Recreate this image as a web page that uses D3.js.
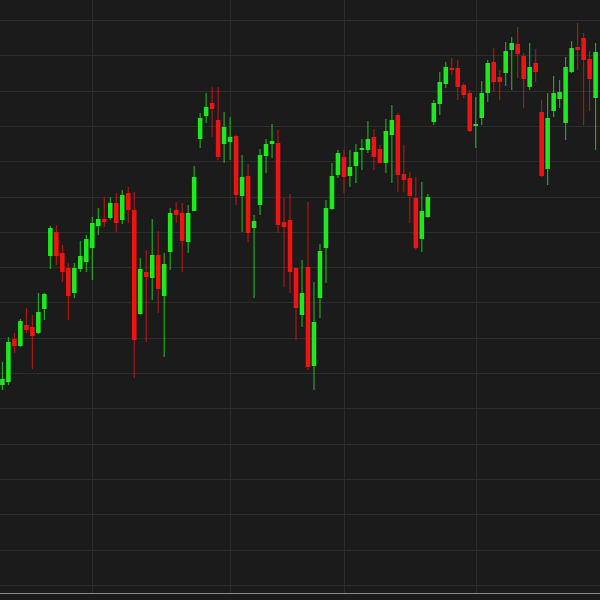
<!DOCTYPE html>
<html>
<head>
<meta charset="utf-8">
<script src="https://cdn.jsdelivr.net/npm/d3@7"></script>
<style>
  html, body { margin: 0; padding: 0; background: #1b1b1b; }
  svg { display: block; }
</style>
</head>
<body>
<svg id="chart" width="600" height="600"></svg>
<script>
// OHLC values (price units)
const opens  = [215,218,261,254,275,273,267,291,344,368,347,332,307,331,338,352,374,381,382,397,
                380,407,390,286,328,322,345,304,348,390,387,358,389,461,484,497,480,456,458,464,
                404,424,372,395,444,456,457,378,380,332,285,333,234,302,352,391,425,443,424,434,
                450,450,463,451,437,465,485,426,422,402,361,383,478,496,516,532,532,515,507,474,
                482,507,538,523,527,550,556,544,513,537,488,431,489,501,477,528,553,562,541,502];
const highs  = [238,263,267,281,292,285,307,307,374,375,355,337,337,359,365,383,392,403,403,407,
                410,413,408,342,350,381,369,347,392,398,397,395,434,487,507,513,513,488,483,465,
                445,436,385,451,461,476,470,402,406,332,340,398,318,356,400,437,450,450,450,456,
                461,479,471,455,481,495,487,455,428,423,418,406,500,528,538,542,540,517,510,503,
                519,540,552,530,558,563,573,547,557,551,500,507,524,520,543,559,577,567,549,557];
const lows   = [210,215,247,253,267,231,266,280,331,335,318,280,302,328,328,320,365,373,380,368,
                376,377,222,285,258,300,287,243,330,377,328,347,389,452,477,463,440,437,440,395,
                368,358,302,385,427,442,367,313,307,260,273,230,210,282,317,390,422,407,413,417,
                430,447,430,437,427,417,408,408,377,350,348,382,475,485,512,525,500,502,468,452,
                475,498,508,500,514,510,522,492,510,518,423,415,483,492,460,527,530,475,489,450];
const closes = [221,258,254,279,270,264,288,306,372,344,328,304,332,344,361,377,381,378,397,377,
                405,390,260,331,323,345,311,336,387,385,359,387,423,482,493,491,443,473,463,405,
                423,367,379,445,456,459,375,373,328,292,307,233,278,349,392,424,447,423,433,448,
                452,461,443,437,469,480,425,420,404,352,389,403,497,518,533,530,513,505,469,476,
                507,537,518,518,549,557,546,521,533,528,424,482,507,508,533,552,550,540,521,548];
// horizontal grid levels (price units) and vertical grid positions (candle index)
const gridLevels = [580,544.7,509.4,474.1,438.8,403.5,368.2,332.9,297.6,262.3,227.0,191.7,156.4,121.1,85.8,50.5,15.2];
const gridCandles = [15, 38, 57, 79];

const W = 600, H = 600;
const data = opens.map((o, i) => ({ i, open: o, high: highs[i], low: lows[i], close: closes[i] }));

const svg = d3.select("#chart");
svg.append("rect").attr("width", W).attr("height", H).attr("fill", "#1b1b1b");

const x = d3.scaleBand().domain(d3.range(data.length)).range([-1.3, 599.3]).padding(0.24);
const y = d3.scaleLinear().domain([0, 600]).range([600, 0]);
const cx = i => x(i) + x.bandwidth() / 2;

// grid
const grid = svg.append("g");
grid.selectAll("line.h").data(gridLevels).join("line")
  .attr("x1", 0).attr("x2", W)
  .attr("y1", d => Math.round(y(d)) + 0.5).attr("y2", d => Math.round(y(d)) + 0.5)
  .attr("stroke", "#2c2c2c").attr("stroke-width", 1);
grid.selectAll("line.v").data(gridCandles).join("line")
  .attr("y1", 0).attr("y2", 593)
  .attr("x1", d => Math.round(cx(d)) + 0.5).attr("x2", d => Math.round(cx(d)) + 0.5)
  .attr("stroke", "#2c2c2c").attr("stroke-width", 1);

// bottom axis line
svg.append("line").attr("x1", 0).attr("x2", W).attr("y1", 593.5).attr("y2", 593.5)
  .attr("stroke", "#8a8a8a").attr("stroke-width", 1.2);

const up = "#1ee81e", down = "#ee1414";
const g = svg.append("g");
const c = g.selectAll("g.c").data(data).join("g");
c.append("line")
  .attr("x1", d => cx(d.i)).attr("x2", d => cx(d.i))
  .attr("y1", d => y(d.high)).attr("y2", d => y(d.low))
  .attr("stroke", d => d.close >= d.open ? up : down)
  .attr("stroke-width", 1.1).attr("opacity", 0.75);
c.append("rect")
  .attr("x", d => x(d.i)).attr("width", x.bandwidth())
  .attr("y", d => y(Math.max(d.open, d.close)))
  .attr("height", d => Math.max(1.5, Math.abs(y(d.open) - y(d.close))))
  .attr("fill", d => d.close >= d.open ? up : down);
</script>
</body>
</html>
